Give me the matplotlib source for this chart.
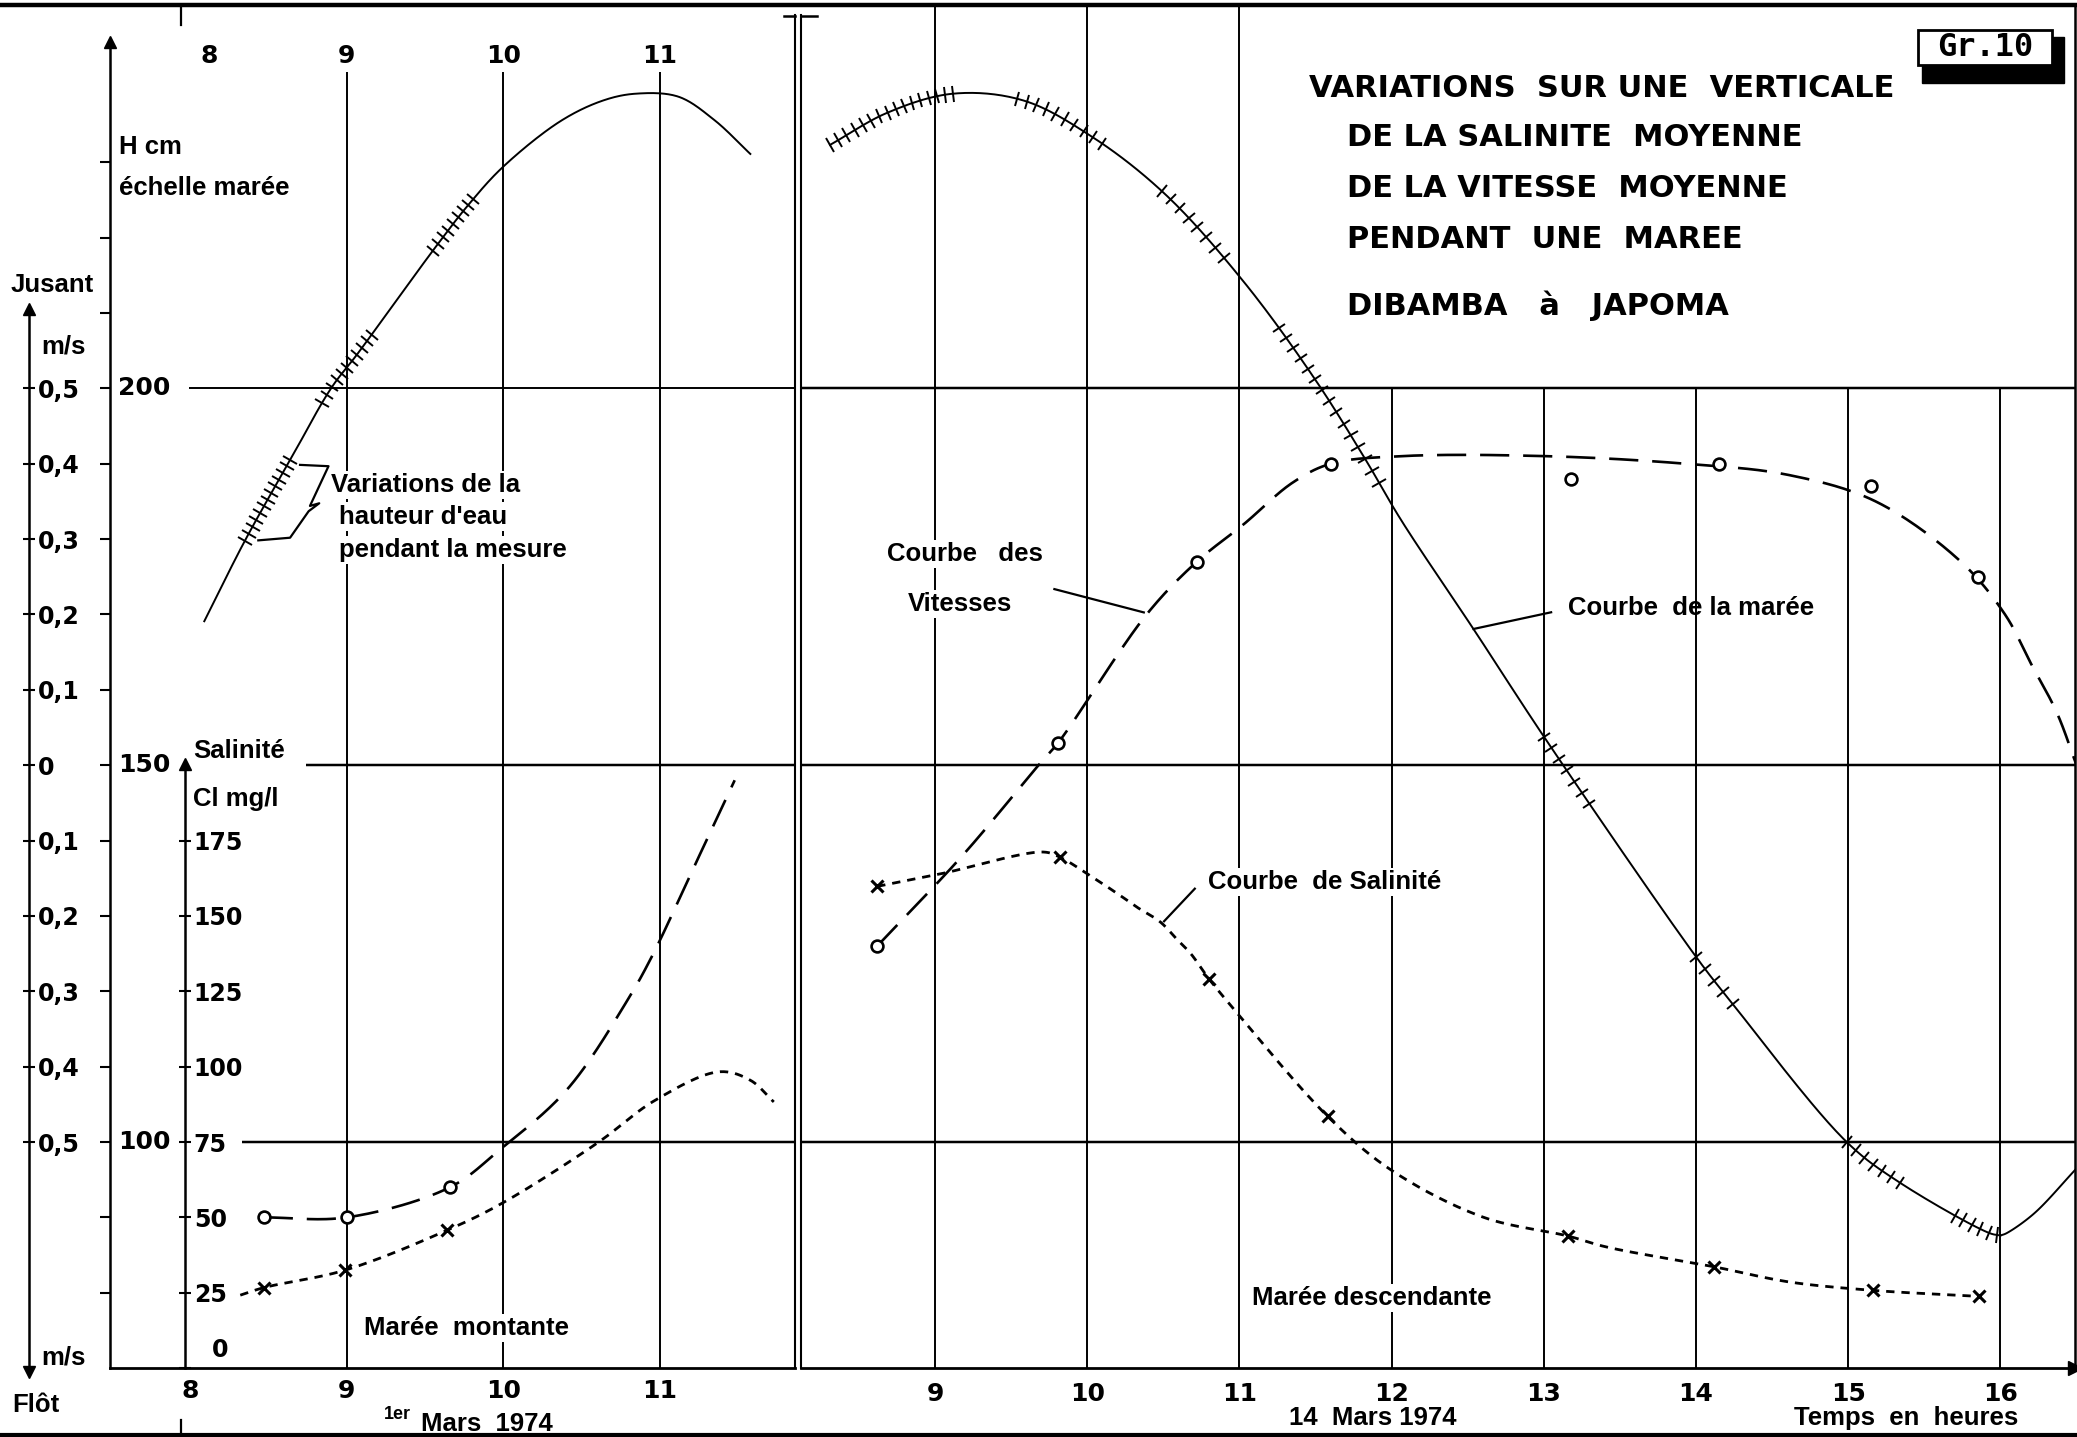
import numpy as np
import matplotlib
matplotlib.use("Agg")
import matplotlib.pyplot as plt
from matplotlib.markers import MarkerStyle
from matplotlib.transforms import Affine2D, blended_transform_factory
from matplotlib.lines import Line2D
from matplotlib.patches import Rectangle

plt.rcParams['lines.scale_dashes'] = False
plt.rcParams['font.family'] = ['DejaVu Sans']
plt.rcParams['font.weight'] = 'bold'

# ---------------- data ----------------
# 1 March 1974 (rising tide) : hours, tide height H (cm, tide staff)
tide_mar1_t = [8.09, 8.35, 8.65, 8.90, 9.07, 9.57, 9.78, 10.00, 10.37, 10.64, 10.85, 11.12, 11.35, 11.58]
tide_mar1_h = [169.1, 179.8, 190.9, 200.0, 204.6, 218.8, 224.4, 229.4, 235.5, 238.2, 239.1, 238.7, 235.6, 231.1]

# mean velocity (m/s, ebb positive, flood negative)
vel_mar1_obs_t = [8.47, 9.00, 9.66]
vel_mar1_obs = [-0.60, -0.60, -0.56]
vel_mar1_t = [8.47, 9.00, 9.66, 9.98, 10.41, 10.80, 10.96, 11.22, 11.48]
vel_mar1 = [-0.60, -0.60, -0.56, -0.51, -0.43, -0.31, -0.25, -0.135, -0.02]

# mean salinity (Cl mg/l)
sal_mar1_obs_t = [8.47, 8.99, 9.64]
sal_mar1_obs = [26.7, 32.5, 45.7]
sal_mar1_t = [8.32, 8.47, 8.99, 9.64, 9.99, 10.60, 10.97, 11.38, 11.58, 11.73]
sal_mar1 = [24.2, 26.7, 32.5, 45.7, 54.6, 74.6, 88.8, 98.3, 95.5, 88.3]

# 14 March 1974 (falling tide)
tide_mar14_t = [8.31, 8.69, 9.12, 9.58, 10.03, 10.51, 11.03, 11.50, 11.83, 12.06, 12.54, 13.02,
                14.01, 14.23, 14.99, 15.34, 15.93, 16.00]
tide_mar14_h = [232.3, 236.6, 239.1, 238.2, 233.4, 225.8, 214.1, 201.1, 190.5, 182.6, 168.0, 153.2,
                124.3, 118.6, 100.0, 94.6, 87.9, 87.6]
tide_mar14_rise_t = [16.00, 16.04, 16.22, 16.50]
tide_mar14_rise_h = [87.6, 87.9, 90.5, 96.5]

vel_mar14_obs_t = [8.62, 9.81, 10.72, 11.60, 13.18, 14.15, 15.15, 15.85]
vel_mar14_obs = [-0.24, 0.03, 0.27, 0.40, 0.38, 0.40, 0.37, 0.25]
vel_mar14_t = [8.62, 9.18, 9.68, 9.81, 10.39, 10.72, 11.03, 11.35, 11.60, 12.06, 13.02, 13.93,
               14.61, 15.18, 15.74, 16.03, 16.20, 16.37, 16.50]
vel_mar14 = [-0.24, -0.12, 0.00, 0.03, 0.20, 0.27, 0.32, 0.375, 0.40, 0.41, 0.41, 0.40,
             0.385, 0.35, 0.27, 0.20, 0.135, 0.07, 0.0]

sal_mar14_obs_t = [8.62, 9.82, 10.80, 11.58, 13.16, 14.12, 15.16, 15.86]
sal_mar14_obs = [159.8, 169.5, 129.1, 83.5, 43.8, 33.6, 25.8, 23.8]
sal_mar14_t = [8.62, 9.04, 9.71, 9.82, 10.00, 10.21, 10.33, 10.48, 10.59, 10.68, 10.80, 10.97,
               11.58, 12.00, 12.60, 13.16, 13.41, 14.12, 14.61, 15.16, 15.86]
sal_mar14 = [159.8, 164.0, 171.2, 169.5, 164.0, 157.0, 152.8, 148.0, 142.2, 137.5, 129.1, 118.7,
             83.5, 65.6, 50.1, 43.8, 40.2, 33.6, 28.6, 25.8, 23.8]

# water-level readings taken during each measurement (start, end, number of readings)
readings_mar1 = [(8.35, 8.64, 13), (8.84, 9.16, 11), (9.55, 9.81, 9)]
readings_mar14 = [(8.31, 9.12, 16), (9.54, 10.10, 10), (10.49, 10.90, 8), (11.26, 11.92, 15),
                  (13.00, 13.30, 7), (14.00, 14.24, 5), (14.99, 15.34, 7), (15.70, 15.98, 6)]

hours_mar1 = [8, 9, 10, 11]
hours_mar14 = [9, 10, 11, 12, 13, 14, 15, 16]
vel_ticks = [0.5, 0.4, 0.3, 0.2, 0.1, 0.0, -0.1, -0.2, -0.3, -0.4, -0.5]
sal_ticks = [0, 25, 50, 75, 100, 125, 150, 175]

title_lines = ["VARIATIONS  SUR UNE  VERTICALE", "DE LA SALINITE  MOYENNE",
               "DE LA VITESSE  MOYENNE", "PENDANT  UNE  MAREE", "DIBAMBA   à   JAPOMA"]

# ---------------- layout ----------------
SW, SH = 1568.0, 1085.0
fig = plt.figure(figsize=(20.77, 14.37), dpi=100)
fig.patch.set_facecolor('white')
sheet = Affine2D().scale(1 / SW, -1 / SH).translate(0, 1) + fig.transFigure


def rect(x0, x1, y_top, y_bot):
    return [x0 / SW, 1 - y_bot / SH, (x1 - x0) / SW, (y_bot - y_top) / SH]


H_MIN, H_MAX = 70.0, 251.0
ax1 = fig.add_axes(rect(83, 600, 3, 1033))
ax2 = fig.add_axes(rect(605, 1566.5, 3, 1033))
ax1.set_xlim(7.487, 11.864)
ax2.set_xlim(8.122, 16.49)
for a in (ax1, ax2):
    a.set_ylim(H_MIN, H_MAX)
    a.set_facecolor('none')
    for s in a.spines.values():
        s.set_visible(False)
    a.tick_params(axis='both', length=0)
    a.set_yticks([])

K = 'black'
GRID_LW = 1.4
NUM = 18          # size of scale numbers
LAB = 18.5        # size of lettering
LF = ['Liberation Sans', 'DejaVu Sans']


def vel_to_h(v):
    return 150.0 + 100.0 * np.asarray(v)


def sal_to_h(s):
    return 70.0 + 0.4 * np.asarray(s)


def smooth(ax, xs, ys, n=30):
    pts = ax.transData.transform(np.column_stack([xs, ys]).astype(float))
    P = np.vstack([2 * pts[0] - pts[1], pts, 2 * pts[-1] - pts[-2]])
    out = []
    for i in range(1, len(P) - 2):
        p0, p1, p2, p3 = P[i - 1], P[i], P[i + 1], P[i + 2]
        t0 = 0.0
        t1 = t0 + max(np.hypot(*(p1 - p0)), 1e-6) ** 0.5
        t2 = t1 + max(np.hypot(*(p2 - p1)), 1e-6) ** 0.5
        t3 = t2 + max(np.hypot(*(p3 - p2)), 1e-6) ** 0.5
        tt = np.linspace(t1, t2, n)[:, None]
        A1 = (t1 - tt) / (t1 - t0) * p0 + (tt - t0) / (t1 - t0) * p1
        A2 = (t2 - tt) / (t2 - t1) * p1 + (tt - t1) / (t2 - t1) * p2
        A3 = (t3 - tt) / (t3 - t2) * p2 + (tt - t2) / (t3 - t2) * p3
        B1 = (t2 - tt) / (t2 - t0) * A1 + (tt - t0) / (t2 - t0) * A2
        B2 = (t3 - tt) / (t3 - t1) * A2 + (tt - t1) / (t3 - t1) * A3
        C = (t2 - tt) / (t2 - t1) * B1 + (tt - t1) / (t2 - t1) * B2
        out.append(C if i == len(P) - 3 else C[:-1])
    return ax.transData.inverted().transform(np.vstack(out))


def reading_marks(ax, curve, groups):
    pix = ax.transData.transform(curve)
    for t_a, t_b, count in groups:
        for t in np.linspace(t_a, t_b, count):
            y = np.interp(t, curve[:, 0], curve[:, 1])
            i = int(np.clip(np.searchsorted(curve[:, 0], t), 1, len(curve) - 1))
            d = pix[i] - pix[i - 1]
            ang = np.degrees(np.arctan2(d[1], d[0]))
            m = MarkerStyle('|', transform=Affine2D().rotate_deg(ang))
            ax.plot([t], [y], marker=m, ms=11, mew=1.4, color=K, ls='none', zorder=4)


# ---------------- grid ----------------
ax1.vlines([9, 10, 11], H_MIN, 242, color=K, lw=GRID_LW, zorder=1)
ax1.hlines(200, 7.995, 11.864, color=K, lw=GRID_LW, zorder=1)
ax1.hlines(150, 8.74, 11.864, color=K, lw=GRID_LW + 0.4, zorder=1)
ax1.hlines(100, 8.334, 11.864, color=K, lw=GRID_LW + 0.4, zorder=1)
ax2.vlines([9, 10, 11], H_MIN, H_MAX, color=K, lw=GRID_LW, zorder=1)
ax2.vlines([12, 13, 14, 15, 16], H_MIN, 200, color=K, lw=GRID_LW, zorder=1)
ax2.hlines([200, 150, 100], 8.122, 16.49, color=K, lw=GRID_LW + 0.4, zorder=1)

# panel frames
ax1.spines['bottom'].set_visible(True)
ax1.spines['bottom'].set_linewidth(2.0)
ax1.spines['right'].set_visible(True)
ax1.spines['right'].set_linewidth(1.5)
ax1.spines['right'].set_bounds(H_MIN, 249.5)
ax1.spines['left'].set_visible(True)
ax1.spines['left'].set_linewidth(1.8)
ax1.spines['left'].set_bounds(H_MIN, 245.0)
ax1.plot([0], [246.0], marker='^', ms=9, color=K, transform=ax1.get_yaxis_transform(), clip_on=False)

ax2.spines['bottom'].set_visible(True)
ax2.spines['bottom'].set_linewidth(2.0)
ax2.spines['left'].set_visible(True)
ax2.spines['left'].set_linewidth(1.5)
ax2.spines['left'].set_bounds(H_MIN, 249.5)
ax2.spines['right'].set_visible(True)
ax2.spines['right'].set_linewidth(1.8)
ax2.plot([1.0], [H_MIN], marker='>', ms=10, color=K, transform=ax2.get_yaxis_transform(), clip_on=False)

# H cm scale on the panel's left edge
ax1.set_yticks([100, 150, 200])
ax1.set_yticks(np.arange(80, 240, 10), minor=True)
ax1.tick_params(axis='y', which='both', direction='out', length=7, width=1.5, labelleft=False)
ytr1 = blended_transform_factory(ax1.transAxes, ax1.transData)
for hv in [200, 150, 100]:
    ax1.text(0.012, hv, str(hv), transform=ytr1, ha='left', va='center', fontsize=NUM)

# velocity scale (m/s)
axv = ax1.twinx()
axv.set_ylim((H_MIN - 150) / 100, (H_MAX - 150) / 100)
for s in ['left', 'top', 'bottom']:
    axv.spines[s].set_visible(False)
VX = (22 - 83) / 517.0
axv.spines['right'].set_position(('axes', VX))
axv.spines['right'].set_bounds(-0.80, 0.60)
axv.spines['right'].set_linewidth(1.8)
axv.set_yticks(vel_ticks)
axv.set_yticklabels([('%.1f' % abs(v)).replace('.', ',').replace('0,0', '0') for v in vel_ticks])
axv.tick_params(axis='y', direction='inout', length=9, width=1.5, pad=2, labelsize=NUM - 1)
vtr = blended_transform_factory(axv.transAxes, axv.transData)
axv.plot([VX], [0.605], marker='^', ms=8, color=K, transform=vtr, clip_on=False)
axv.plot([VX], [-0.805], marker='v', ms=8, color=K, transform=vtr, clip_on=False)

# salinity scale (Cl mg/l)
axs = ax1.twinx()
axs.set_ylim(0, (H_MAX - 70) / 0.4)
for s in ['left', 'top', 'bottom']:
    axs.spines[s].set_visible(False)
SX = (139.5 - 83) / 517.0
axs.spines['right'].set_position(('axes', SX))
axs.spines['right'].set_bounds(0, 199)
axs.spines['right'].set_linewidth(1.8)
axs.set_yticks(sal_ticks)
axs.set_yticklabels([''] + [str(s) for s in sal_ticks[1:]])
axs.tick_params(axis='y', direction='inout', length=9, width=1.5, pad=2, labelsize=NUM - 1)
str_ = blended_transform_factory(axs.transAxes, axs.transData)
axs.plot([SX], [200.5], marker='^', ms=8, color=K, transform=str_, clip_on=False)
axs.text((160 - 83) / 517.0, 2, '0', transform=str_, ha='left', va='bottom', fontsize=NUM - 1)
for a in (axv, axs):
    a.set_xlim(ax1.get_xlim())
    a.set_xticks([])
    a.patch.set_visible(False)

# hour labels
ax1.set_xticks(hours_mar1)
ax1.set_xticklabels([str(h) for h in hours_mar1])
ax1.tick_params(axis='x', length=0, pad=8, labelsize=NUM)
ax2.set_xticks(hours_mar14)
ax2.set_xticklabels([str(h) for h in hours_mar14])
ax2.tick_params(axis='x', length=0, pad=10, labelsize=NUM)
for h in hours_mar1:
    ax1.text(h + (0.12 if h == 8 else 0.0), 244.1, str(h), ha='center', va='center', fontsize=NUM)

# ---------------- curves ----------------
tide1 = smooth(ax1, tide_mar1_t, tide_mar1_h)
ax1.plot(tide1[:, 0], tide1[:, 1], color=K, lw=1.4, zorder=3)
reading_marks(ax1, tide1, readings_mar1)

tide2 = smooth(ax2, tide_mar14_t, tide_mar14_h)
ax2.plot(tide2[:, 0], tide2[:, 1], color=K, lw=1.4, zorder=3)
tide2b = smooth(ax2, tide_mar14_rise_t, tide_mar14_rise_h)
ax2.plot(tide2b[:, 0], tide2b[:, 1], color=K, lw=1.4, zorder=3)
reading_marks(ax2, tide2, readings_mar14)

VEL_DASH = (0, (21, 10))
SAL_DASH = (0, (6, 5))

for ax, vt, vv, ot, ov in [(ax1, vel_mar1_t, vel_mar1, vel_mar1_obs_t, vel_mar1_obs),
                           (ax2, vel_mar14_t, vel_mar14, vel_mar14_obs_t, vel_mar14_obs)]:
    c = smooth(ax, vt, vel_to_h(vv))
    ax.plot(c[:, 0], c[:, 1], color=K, lw=1.9, ls=VEL_DASH, zorder=3)
    ax.plot(ot, vel_to_h(ov), ls='none', marker='o', ms=8.5, mfc='white', mec=K, mew=1.9, zorder=5)

for ax, st, sv, ot, ov in [(ax1, sal_mar1_t, sal_mar1, sal_mar1_obs_t, sal_mar1_obs),
                           (ax2, sal_mar14_t, sal_mar14, sal_mar14_obs_t, sal_mar14_obs)]:
    c = smooth(ax, st, sal_to_h(sv))
    ax.plot(c[:, 0], c[:, 1], color=K, lw=2.0, ls=SAL_DASH, zorder=3)
    ax.plot(ot, sal_to_h(ov), ls='none', marker='x', ms=8, mec=K, mew=2.2, zorder=5)

# ---------------- annotations ----------------
WB = dict(facecolor='white', edgecolor='none', pad=1.5)


def st(x, y, s, size=LAB, ha='left', box=True, family=LF, **kw):
    fig.text(x, y, s, transform=sheet, ha=ha, va='center', fontsize=size,
             bbox=WB if box else None, zorder=6, family=family, **kw)


def sl(xs, ys, lw=1.6):
    fig.add_artist(Line2D(xs, ys, transform=sheet, color=K, lw=lw, zorder=6))


st(90, 111, 'H cm', box=False)
st(90, 142, 'échelle marée', box=False)
st(8, 215, 'Jusant', box=False)
st(31, 262, 'm/s', box=False)
st(31, 1025, 'm/s', box=False)
st(9, 1061, 'Flôt', box=False)
st(146, 567, 'Salinité', box=False)
st(146, 603, 'Cl mg/l', box=False)
st(250, 366, 'Variations de la')
st(256, 390, "hauteur d'eau")
st(256, 415, 'pendant la mesure')
sl([226.5, 248, 234, 241, 233, 219, 195], [351, 352, 382, 380, 386, 406, 408])
st(275, 1003, 'Marée  montante')
st(290, 1068, '1er', size=13, box=False)
st(318, 1075, 'Mars  1974', box=False)
st(670, 418, 'Courbe   des')
st(685, 456, 'Vitesses')
sl([796, 863.5], [444.8, 462.4])
st(912, 666, 'Courbe  de Salinité')
sl([902, 878.8], [671, 695.6])
st(1184, 459, 'Courbe  de la marée', box=False)
sl([1171, 1112.4], [462.3, 474.9])
st(945, 980, 'Marée descendante')
st(973, 1071, '14  Mars 1974', box=False)
st(1354, 1071, 'Temps  en  heures', box=False)

# title block
TF = ['DejaVu Sans']
st(988, 67, title_lines[0], size=22, box=False, family=TF)
for y, line in zip([104, 142, 181, 231], title_lines[1:]):
    st(1017, y, line, size=22, box=False, family=TF)

# plate number box
fig.add_artist(Rectangle((1451, 28), 107, 35, transform=sheet, facecolor=K, edgecolor=K, zorder=6))
fig.add_artist(Rectangle((1448, 22.6), 101, 26.4, transform=sheet, facecolor='white', edgecolor=K, lw=2, zorder=7))
fig.text(1498.5, 36, 'Gr.10', transform=sheet, ha='center', va='center', fontsize=23,
         family=['DejaVu Sans Mono'], zorder=8)

# sheet border and break marks
sl([0, 1568], [3.5, 3.5], lw=3.2)
sl([0, 1568], [1083.5, 1083.5], lw=3.0)
sl([137, 137], [4, 19], lw=1.6)
sl([137, 137], [1072, 1084], lw=1.6)
sl([591.5, 600.5], [11.8, 11.8], lw=1.8)
sl([604.5, 616.5], [11.8, 11.8], lw=1.8)

fig.savefig('out.png', dpi=100, facecolor='white')
